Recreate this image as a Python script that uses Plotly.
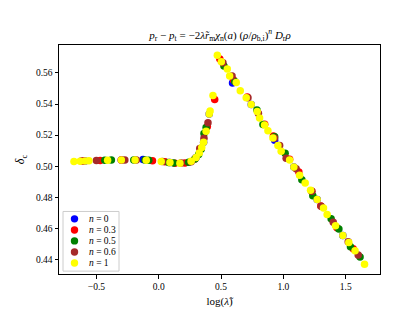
import plotly.graph_objects as go

# ---- data ----
series_names = ["n = 0", "n = 0.3", "n = 0.5", "n = 0.6", "n = 1"]
series_labels = ["<i>n</i> = 0", "<i>n</i> = 0.3", "<i>n</i> = 0.5", "<i>n</i> = 0.6", "<i>n</i> = 1"]
series_colors = ["blue", "red", "green", "brown", "yellow"]

x_n0 = [-0.59, -0.30, -0.126, 0.09, 0.30, 0.36, 0.405, 0.592, 0.742, 0.930, 1.084, 1.271, 1.477]
y_n0 = [0.5034, 0.5041, 0.5044, 0.5024, 0.5057, 0.5155, 0.5336, 0.5536, 0.5398, 0.5168, 0.4996, 0.4787, 0.4555]

x_n03 = [-0.607, -0.47, -0.30, -0.05, 0.05, 0.13, 0.21, 0.29, 0.34, 0.39, 0.449, 0.49,
         0.60, 0.71, 0.85, 0.92, 1.05, 1.124, 1.228, 1.30, 1.43, 1.56]
y_n03 = [0.5034, 0.5037, 0.5040, 0.5036, 0.5029, 0.5019, 0.5021, 0.5047, 0.5115, 0.5255, 0.5429, 0.5690,
         0.5555, 0.5445, 0.5270, 0.5195, 0.5045, 0.4963, 0.4839, 0.4744, 0.4605, 0.4470]

x_n05 = [-0.433, -0.380, -0.20, -0.11, -0.08, 0.08, 0.12, 0.24, 0.29, 0.32, 0.34, 0.363, 0.38,
         0.523, 0.610, 0.788, 0.836, 0.93, 1.014, 1.148, 1.236, 1.383, 1.445, 1.538, 1.615]
y_n05 = [0.5039, 0.5040, 0.5041, 0.5040, 0.5039, 0.5024, 0.5021, 0.5026, 0.5047, 0.5075, 0.5110, 0.5211, 0.5250,
         0.5645, 0.5545, 0.5362, 0.5269, 0.5190, 0.5083, 0.4913, 0.4810, 0.4663, 0.4597, 0.4483, 0.4417]

x_n06 = [-0.62, -0.50, -0.272, -0.18, 0.03, 0.18, 0.26, 0.329, 0.363, 0.395, 0.515, 0.588,
         0.716, 0.80, 0.929, 0.970, 1.022, 1.102, 1.228, 1.303, 1.40, 1.52, 1.60]
y_n06 = [0.5034, 0.5037, 0.5041, 0.5041, 0.5031, 0.5021, 0.5029, 0.5114, 0.5180, 0.5280, 0.5666, 0.5580,
         0.5441, 0.5340, 0.5182, 0.5134, 0.5052, 0.4984, 0.4839, 0.4742, 0.4640, 0.4515, 0.4430]

x_n1 = [-0.68, -0.63, -0.59, -0.56, -0.41, -0.30, -0.19, -0.10, 0.02, 0.09, 0.17, 0.26, 0.30, 0.325,
        0.345, 0.36, 0.38, 0.405, 0.412, 0.435, 0.470, 0.502, 0.550, 0.569, 0.622, 0.654, 0.702,
        0.742, 0.790, 0.809, 0.849, 0.876, 0.916, 0.956, 0.982, 1.050, 1.084, 1.130, 1.175, 1.218,
        1.271, 1.322, 1.351, 1.418, 1.477, 1.525, 1.575, 1.651]
y_n1 = [0.5031, 0.5033, 0.5034, 0.5035, 0.5039, 0.5041, 0.5040, 0.5039, 0.5031, 0.5024, 0.5020, 0.5032, 0.5057, 0.5085,
        0.5120, 0.5155, 0.5225, 0.5336, 0.5356, 0.5455, 0.5714, 0.5673, 0.5625, 0.5580, 0.5538, 0.5486, 0.5441,
        0.5398, 0.5352, 0.5311, 0.5265, 0.5228, 0.5182, 0.5134, 0.5097, 0.5041, 0.4996, 0.4942, 0.4892, 0.4845,
        0.4787, 0.4731, 0.4690, 0.4617, 0.4555, 0.4510, 0.4456, 0.4369]

x_values = [x_n0, x_n03, x_n05, x_n06, x_n1]
y_values = [y_n0, y_n03, y_n05, y_n06, y_n1]

x_ticks = [-0.5, 0.0, 0.5, 1.0, 1.5]
y_ticks = [0.44, 0.46, 0.48, 0.50, 0.52, 0.54, 0.56]

FONT = "Liberation Serif"

fig = go.Figure()
for name, col, xs, ys in zip(series_names, series_colors, x_values, y_values):
    fig.add_trace(go.Scatter(x=xs, y=ys, mode="markers", name=name, showlegend=False,
                             marker=dict(color=col, size=7.5, line=dict(width=0))))

# plot geometry (pixels)
W, H = 413, 310
L, R, T, B = 51, 41, 37, 35
pw, ph = W - L - R, H - T - B

def px_x(p):
    return (p - L) / pw

def px_y(p):
    return (H - B - p) / ph

shapes = []
annotations = []
# legend box
shapes.append(dict(type="rect", xref="paper", yref="paper",
                   x0=px_x(55), x1=px_x(111), y0=px_y(272), y1=px_y(210),
                   line=dict(color="#cccccc", width=1), fillcolor="rgba(255,255,255,0.8)"))
entry_y = [217.7, 229.2, 240.6, 252.1, 263.6]
for lab, col, ey in zip(series_labels, series_colors, entry_y):
    shapes.append(dict(type="circle", xref="paper", yref="paper",
                       xsizemode="pixel", ysizemode="pixel",
                       xanchor=px_x(66.5), yanchor=px_y(ey),
                       x0=-3.7, x1=3.7, y0=-3.7, y1=3.7,
                       fillcolor=col, line=dict(width=0)))
    annotations.append(dict(xref="paper", yref="paper", x=px_x(79), y=px_y(ey),
                            xanchor="left", yanchor="middle", showarrow=False,
                            text=lab, font=dict(family=FONT, size=9.5, color="black")))

fig.update_layout(
    width=W, height=H,
    margin=dict(l=L, r=R, t=T, b=B, pad=0),
    paper_bgcolor="white", plot_bgcolor="white",
    font=dict(family=FONT, size=9, color="black"),
    title=dict(text="<i>p</i><sub>r</sub> − <i>p</i><sub>t</sub> = −2<i>λ̃r</i><sub>m</sub><i>χ</i><sub>n</sub>(<i>a</i>) "
                    "(<i>ρ</i>/<i>ρ</i><sub>b,i</sub>)<sup><i>n</i></sup> <i>D</i><sub>r</sub><i>ρ</i>",
               x=(212 / W), xanchor="center", y=1 - 27 / H, yanchor="middle",
               font=dict(family=FONT, size=11, color="black")),
    shapes=shapes,
    annotations=annotations,
    xaxis=dict(range=[-0.80, 1.775], tickvals=x_ticks, tickformat=".1f",
               showline=True, mirror=True, linecolor="black", linewidth=1,
               ticks="outside", ticklen=3.5, tickcolor="black", tickwidth=0.8,
               showgrid=False, zeroline=False,
               tickfont=dict(family=FONT, size=9.5, color="black"),
               title=dict(text="log(<i>λ̃</i>)", font=dict(family=FONT, size=11, color="black"), standoff=6)),
    yaxis=dict(range=[0.4307, 0.578], tickvals=y_ticks, tickformat=".2f",
               showline=True, mirror=True, linecolor="black", linewidth=1,
               ticks="outside", ticklen=3.5, tickcolor="black", tickwidth=0.8,
               showgrid=False, zeroline=False,
               tickfont=dict(family=FONT, size=9.5, color="black"),
               title=dict(text="<i>δ</i><sub>c</sub>", font=dict(family=FONT, size=12, color="black"), standoff=8)),
)

fig.write_html("out.html")
